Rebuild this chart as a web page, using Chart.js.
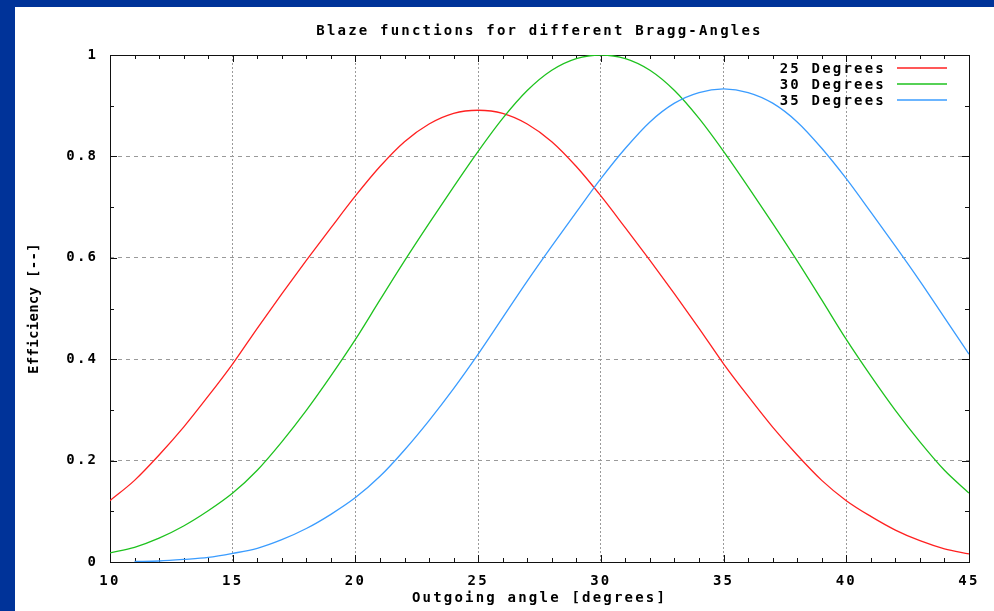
<!DOCTYPE html>
<html>
<head>
<meta charset="utf-8">
<title>Blaze functions for different Bragg-Angles</title>
<script src="https://cdn.jsdelivr.net/npm/chart.js@4.4.1/dist/chart.umd.min.js"></script>
<style>
  html, body { margin: 0; padding: 0; background: #003399; overflow: hidden; }
  #frame { position: absolute; left: 15px; top: 7px; width: 979px; height: 604px; background: #fff; }
</style>
</head>
<body>
<div id="frame"><canvas id="blazeChart"></canvas></div>
<script>
// outgoing angle in degrees, one sample per degree
const angles = [10, 11, 12, 13, 14, 15, 16, 17, 18, 19, 20, 21, 22, 23, 24, 25, 26, 27,
                28, 29, 30, 31, 32, 33, 34, 35, 36, 37, 38, 39, 40, 41, 42, 43, 44, 45];

// efficiency
const bragg25 = [0.121, 0.161, 0.211, 0.266, 0.327, 0.391, 0.461, 0.529, 0.595, 0.659,
                 0.722, 0.780, 0.829, 0.864, 0.885, 0.891, 0.885, 0.864, 0.829, 0.780,
                 0.722, 0.659, 0.595, 0.529, 0.461, 0.391, 0.327, 0.266, 0.211, 0.161,
                 0.121, 0.090, 0.063, 0.042, 0.026, 0.016];
const bragg30 = [0.018, 0.029, 0.047, 0.071, 0.101, 0.136, 0.181, 0.237, 0.299, 0.367,
                 0.439, 0.517, 0.594, 0.668, 0.740, 0.810, 0.875, 0.930, 0.970, 0.993,
                 1.000, 0.993, 0.970, 0.930, 0.875, 0.810, 0.740, 0.668, 0.594, 0.517,
                 0.439, 0.367, 0.299, 0.237, 0.181, 0.136];
const bragg35 = [null, 0.001, 0.002, 0.005, 0.009, 0.017, 0.027, 0.044, 0.066, 0.094,
                 0.127, 0.169, 0.221, 0.279, 0.342, 0.410, 0.482, 0.554, 0.623, 0.690,
                 0.756, 0.816, 0.868, 0.905, 0.926, 0.933, 0.926, 0.905, 0.868, 0.816,
                 0.756, 0.690, 0.623, 0.554, 0.482, 0.410];

const seriesLabels = ['25 Degrees', '30 Degrees', '35 Degrees'];
const seriesColors = ['#ff2020', '#1ec21e', '#3a9cff'];

const xTicks = [10, 15, 20, 25, 30, 35, 40, 45];
const yTicks = [0, 0.2, 0.4, 0.6, 0.8, 1];
const yTickLabels = ['0', '0.2', '0.4', '0.6', '0.8', '1'];

const chartTitle = 'Blaze functions for different Bragg-Angles';
const xTitle = 'Outgoing angle [degrees]';
const yTitle = 'Efficiency [--]';

const monoFont = '"DejaVu Sans Mono", monospace';

Chart.defaults.font.family = monoFont;
Chart.defaults.font.size = 14;
Chart.defaults.font.weight = 'bold';
Chart.defaults.color = '#000';

// gnuplot style: wide monospace text, inward ticks on all four sides, closed frame
const gnuplotLook = {
    id: 'gnuplotLook',
    beforeDraw(chart) {
        chart.ctx.letterSpacing = '2.2px';
    },
    beforeDatasetsDraw(chart) {
        const { ctx, chartArea: a, scales: { x, y } } = chart;
        ctx.save();
        ctx.strokeStyle = '#111';
        ctx.lineWidth = 1;
        ctx.beginPath();
        for (let v = xTicks[0]; v <= xTicks[xTicks.length - 1]; v++) {
            const px = Math.round(x.getPixelForValue(v)) + 0.5;
            const len = v % 5 === 0 ? 7 : 4;
            ctx.moveTo(px, a.bottom); ctx.lineTo(px, a.bottom - len);
            ctx.moveTo(px, a.top); ctx.lineTo(px, a.top + len);
        }
        for (let i = 0; i <= 10; i++) {
            const py = Math.round(y.getPixelForValue(i / 10)) + 0.5;
            const len = i % 2 === 0 ? 7 : 4;
            ctx.moveTo(a.left, py); ctx.lineTo(a.left + len, py);
            ctx.moveTo(a.right, py); ctx.lineTo(a.right - len, py);
        }
        ctx.stroke();
        ctx.strokeRect(Math.round(a.left) + 0.5, Math.round(a.top) + 0.5,
                       Math.round(a.width), Math.round(a.height));
        ctx.restore();
    },
    afterDatasetsDraw(chart) {
        const { ctx, chartArea: a } = chart;
        ctx.save();
        ctx.font = 'bold 14px ' + monoFont;
        ctx.textBaseline = 'middle';
        // key, text first then the line sample
        ctx.letterSpacing = '2.2px';
        ctx.textAlign = 'right';
        chart.data.datasets.forEach((ds, i) => {
            const ky = a.top + 14 + i * 16;
            ctx.fillStyle = '#000';
            ctx.fillText(ds.label, a.right - 83, ky);
            ctx.strokeStyle = ds.borderColor;
            ctx.lineWidth = 1.3;
            ctx.beginPath();
            ctx.moveTo(a.right - 72, ky - 1);
            ctx.lineTo(a.right - 22, ky - 1);
            ctx.stroke();
        });
        // vertical axis title, tighter spacing as in the original
        ctx.letterSpacing = '0.3px';
        ctx.textAlign = 'center';
        ctx.translate(a.left - 76, (a.top + a.bottom) / 2);
        ctx.rotate(-Math.PI / 2);
        ctx.fillText(yTitle, 0, 0);
        ctx.restore();
    }
};

const ctx = document.getElementById('blazeChart').getContext('2d');

new Chart(ctx, {
    type: 'line',
    data: {
        labels: angles,
        datasets: [
            { label: seriesLabels[0], data: bragg25, borderColor: seriesColors[0], order: 3 },
            { label: seriesLabels[1], data: bragg30, borderColor: seriesColors[1], order: 2 },
            { label: seriesLabels[2], data: bragg35, borderColor: seriesColors[2], order: 1 }
        ].map(ds => Object.assign(ds, {
            data: ds.data.map((v, i) => ({ x: angles[i], y: v })),
            borderWidth: 1.3,
            pointRadius: 0,
            fill: false,
            cubicInterpolationMode: 'monotone'
        }))
    },
    options: {
        responsive: true,
        maintainAspectRatio: false,
        animation: false,
        layout: { padding: { top: 0, right: 25, bottom: 0, left: 0 } },
        scales: {
            x: {
                type: 'linear',
                min: xTicks[0],
                max: xTicks[xTicks.length - 1],
                afterBuildTicks: s => { s.ticks = xTicks.map(v => ({ value: v })); },
                afterFit: s => { s.height = 49; },
                grid: { color: '#9a9a9a', lineWidth: 1, drawTicks: false },
                border: { display: false, dash: [2, 2] },
                ticks: { padding: 10.6, maxRotation: 0, autoSkip: false },
                title: { display: true, text: xTitle, padding: { top: 0, bottom: 4.6 } }
            },
            y: {
                min: yTicks[0],
                max: yTicks[yTicks.length - 1],
                afterBuildTicks: s => { s.ticks = yTicks.map(v => ({ value: v })); },
                afterFit: s => { s.width = 95; },
                grid: { color: '#9a9a9a', lineWidth: 1, drawTicks: false },
                border: { display: false, dash: [4, 4] },
                ticks: { padding: 11.8, callback: (v, i) => yTickLabels[i] }
            }
        },
        plugins: {
            legend: { display: false },
            tooltip: { enabled: false },
            title: {
                display: true,
                text: chartTitle,
                fullSize: false,
                padding: { top: 15.6, bottom: 15.6 },
                font: { size: 14, weight: 'bold', family: monoFont }
            }
        }
    },
    plugins: [gnuplotLook]
});
</script>
</body>
</html>
